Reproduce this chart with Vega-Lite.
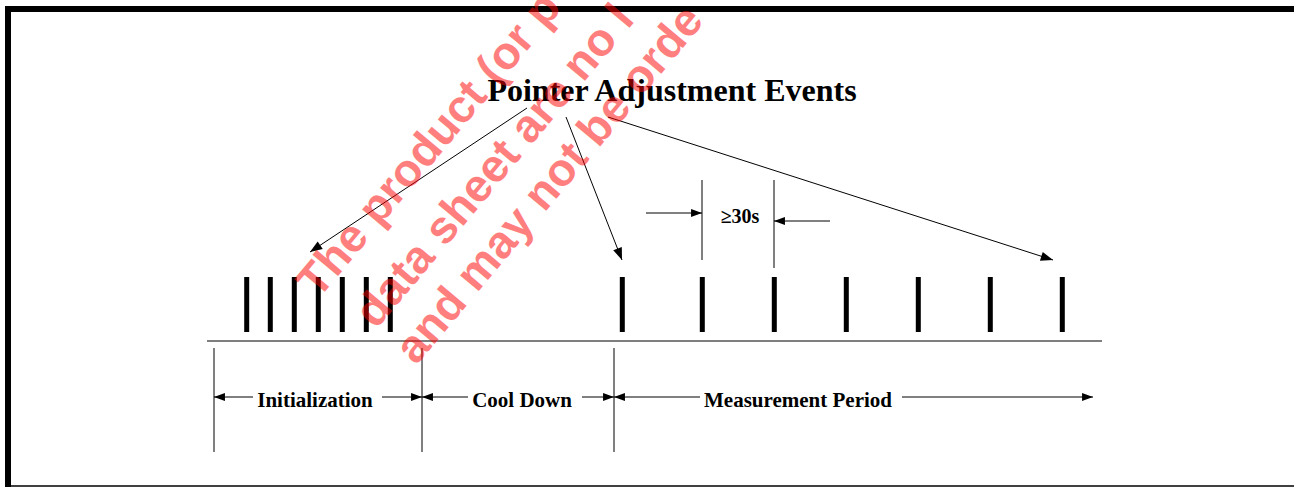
{
  "$schema": "https://vega.github.io/schema/vega-lite/v6.json",
  "width": 1294,
  "height": 487,
  "padding": 0,
  "autosize": {"type": "none"},
  "background": "white",
  "config": {"view": {"stroke": null}},
  "datasets": {
    "border": [
      {"x": 5, "x2": 11, "y": 6, "y2": 487},
      {"x": 5, "x2": 1294, "y": 6, "y2": 12}
    ],
    "bottom": [{"x": 11, "x2": 1294, "y": 486, "y2": 486}],
    "thin": [
      {"x": 527, "y": 108, "x2": 310, "y2": 252},
      {"x": 566, "y": 117, "x2": 622, "y2": 260},
      {"x": 608, "y": 117, "x2": 1053, "y2": 260},
      {"x": 214, "y": 348, "x2": 214, "y2": 452},
      {"x": 422, "y": 348, "x2": 422, "y2": 452},
      {"x": 614, "y": 348, "x2": 614, "y2": 452},
      {"x": 702, "y": 180, "x2": 702, "y2": 260},
      {"x": 774, "y": 180, "x2": 774, "y2": 268},
      {"x": 646, "y": 213, "x2": 702, "y2": 213},
      {"x": 830, "y": 221, "x2": 774, "y2": 221},
      {"x": 214, "y": 397, "x2": 253, "y2": 397},
      {"x": 382, "y": 397, "x2": 422, "y2": 397},
      {"x": 422, "y": 397, "x2": 468, "y2": 397},
      {"x": 582, "y": 397, "x2": 614, "y2": 397},
      {"x": 614, "y": 397, "x2": 700, "y2": 397},
      {"x": 902, "y": 397, "x2": 1093, "y2": 397}
    ],
    "baseline": [{"x": 207, "x2": 1102, "y": 341, "y2": 341}],
    "events": [
      {"x": 246.7, "y": 277, "y2": 332, "phase": "Initialization"},
      {"x": 270.3, "y": 277, "y2": 332, "phase": "Initialization"},
      {"x": 294.3, "y": 277, "y2": 332, "phase": "Initialization"},
      {"x": 318.3, "y": 277, "y2": 332, "phase": "Initialization"},
      {"x": 342.3, "y": 277, "y2": 332, "phase": "Initialization"},
      {"x": 366.3, "y": 277, "y2": 332, "phase": "Initialization"},
      {"x": 390.3, "y": 277, "y2": 332, "phase": "Initialization"},
      {"x": 622.3, "y": 277, "y2": 332, "phase": "Measurement Period"},
      {"x": 702.3, "y": 277, "y2": 332, "phase": "Measurement Period"},
      {"x": 774.3, "y": 277, "y2": 332, "phase": "Measurement Period"},
      {"x": 846.3, "y": 277, "y2": 332, "phase": "Measurement Period"},
      {"x": 918.3, "y": 277, "y2": 332, "phase": "Measurement Period"},
      {"x": 990.3, "y": 277, "y2": 332, "phase": "Measurement Period"},
      {"x": 1062.3, "y": 277, "y2": 332, "phase": "Measurement Period"}
    ],
    "headRight": [
      {"x": 422, "y": 397},
      {"x": 614, "y": 397},
      {"x": 1093, "y": 397},
      {"x": 702, "y": 213}
    ],
    "headLeft": [
      {"x": 214, "y": 397},
      {"x": 422, "y": 397},
      {"x": 614, "y": 397},
      {"x": 774, "y": 221}
    ],
    "head1": [{"x": 310, "y": 252}],
    "head2": [{"x": 622, "y": 260}],
    "head3": [{"x": 1053, "y": 260}],
    "title": [{"x": 672, "y": 101, "text": "Pointer Adjustment Events"}],
    "labels": [
      {"x": 315, "y": 407, "text": "Initialization"},
      {"x": 522, "y": 407, "text": "Cool Down"},
      {"x": 798, "y": 407, "text": "Measurement Period"}
    ],
    "gap": [{"x": 740, "y": 223, "text": "≥30s"}],
    "watermark": [
      {"x": 318, "y": 300, "text": "The product (or p"},
      {"x": 376, "y": 330, "text": "data sheet are no l"},
      {"x": 416, "y": 366, "text": "and may not be orde"}
    ]
  },
  "encoding": {
    "x": {"field": "x", "type": "quantitative", "scale": {"domain": [0, 1294], "nice": false, "zero": false}, "axis": null},
    "y": {"field": "y", "type": "quantitative", "scale": {"domain": [0, 487], "nice": false, "zero": false, "reverse": true}, "axis": null}
  },
  "layer": [
    {
      "data": {"name": "border"},
      "mark": {"type": "rect", "color": "black"},
      "encoding": {"x2": {"field": "x2"}, "y2": {"field": "y2"}}
    },
    {
      "data": {"name": "bottom"},
      "mark": {"type": "rule", "color": "black", "strokeWidth": 1.5},
      "encoding": {"x2": {"field": "x2"}, "y2": {"field": "y2"}}
    },
    {
      "data": {"name": "baseline"},
      "mark": {"type": "rule", "color": "#555555", "strokeWidth": 1.5},
      "encoding": {"x2": {"field": "x2"}, "y2": {"field": "y2"}}
    },
    {
      "data": {"name": "thin"},
      "mark": {"type": "rule", "color": "black", "strokeWidth": 1},
      "encoding": {"x2": {"field": "x2"}, "y2": {"field": "y2"}}
    },
    {
      "data": {"name": "events"},
      "mark": {"type": "rule", "color": "black", "strokeWidth": 5},
      "encoding": {"y2": {"field": "y2"}}
    },
    {
      "data": {"name": "headRight"},
      "mark": {"type": "point", "shape": "M0,0L-2,-0.75L-2,0.75Z", "filled": true, "color": "black", "opacity": 1, "size": 120, "strokeWidth": 0}
    },
    {
      "data": {"name": "headLeft"},
      "mark": {"type": "point", "shape": "M0,0L-2,-0.75L-2,0.75Z", "angle": 180, "filled": true, "color": "black", "opacity": 1, "size": 120, "strokeWidth": 0}
    },
    {
      "data": {"name": "head1"},
      "mark": {"type": "point", "shape": "M0,0L-2,-0.75L-2,0.75Z", "angle": 146.4, "filled": true, "color": "black", "opacity": 1, "size": 150, "strokeWidth": 0}
    },
    {
      "data": {"name": "head2"},
      "mark": {"type": "point", "shape": "M0,0L-2,-0.75L-2,0.75Z", "angle": 68.6, "filled": true, "color": "black", "opacity": 1, "size": 150, "strokeWidth": 0}
    },
    {
      "data": {"name": "head3"},
      "mark": {"type": "point", "shape": "M0,0L-2,-0.75L-2,0.75Z", "angle": 17.8, "filled": true, "color": "black", "opacity": 1, "size": 150, "strokeWidth": 0}
    },
    {
      "data": {"name": "title"},
      "mark": {"type": "text", "font": "Liberation Serif", "fontWeight": "bold", "fontSize": 32, "align": "center", "baseline": "alphabetic", "color": "black"},
      "encoding": {"text": {"field": "text"}}
    },
    {
      "data": {"name": "labels"},
      "mark": {"type": "text", "font": "Liberation Serif", "fontWeight": "bold", "fontSize": 21, "align": "center", "baseline": "alphabetic", "color": "black"},
      "encoding": {"text": {"field": "text"}}
    },
    {
      "data": {"name": "gap"},
      "mark": {"type": "text", "font": "Liberation Serif", "fontWeight": "bold", "fontSize": 20, "align": "center", "baseline": "alphabetic", "color": "black"},
      "encoding": {"text": {"field": "text"}}
    },
    {
      "data": {"name": "watermark"},
      "mark": {"type": "text", "font": "Liberation Sans", "fontWeight": "bold", "fontSize": 46, "angle": -50, "align": "left", "baseline": "alphabetic", "color": "#ff0000", "opacity": 0.5, "clip": true},
      "encoding": {"text": {"field": "text"}}
    }
  ]
}
